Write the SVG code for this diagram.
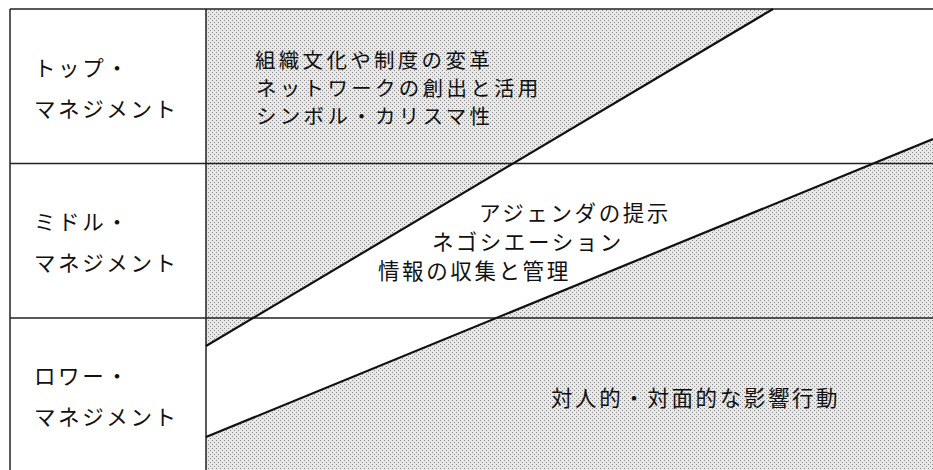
<svg xmlns="http://www.w3.org/2000/svg" width="933" height="470" viewBox="0 0 933 470">
<style>
  .t { font-family: "Noto Sans CJK JP", "Noto Sans CJK SC", sans-serif; font-size: 21.5px; letter-spacing: 2.6px; fill: #111; }
  .tc { font-size: 20.5px; letter-spacing: 3.3px; }
  .frame { stroke: #222; stroke-width: 1.5; fill: none; }
  .diag { stroke: #111; stroke-width: 2.2; fill: none; }
  .shade { fill: url(#dots); stroke: none; }
</style>
<defs>
  <pattern id="dots" patternUnits="userSpaceOnUse" width="4" height="4">
    <rect width="4" height="4" fill="#e8e8e8"/>
    <rect x="0" y="0" width="1" height="1" fill="#8a8a8a"/>
    <rect x="2" y="2" width="1" height="1" fill="#8a8a8a"/>
  </pattern>
</defs>
<rect width="933" height="470" fill="#ffffff"/>
<g id="shading">
  <polygon class="shade" points="206,9 773,9 206,346"/>
  <polygon class="shade" points="206,437 933,139 933,470 206,470"/>
</g>
<g id="grid">
  <line class="frame" x1="10" y1="9" x2="933" y2="9"/>
  <line class="frame" x1="10" y1="9" x2="10" y2="470"/>
  <line class="frame" x1="206" y1="9" x2="206" y2="470"/>
  <line class="frame" x1="10" y1="163.5" x2="933" y2="163.5"/>
  <line class="frame" x1="10" y1="318" x2="933" y2="318"/>
</g>
<g id="connectors">
  <line class="diag" x1="206" y1="346" x2="773" y2="9"/>
  <line class="diag" x1="206" y1="437" x2="933" y2="139"/>
</g>
<g id="label-top">
  <text class="t" x="34" y="76">トップ・</text>
  <text class="t" x="34" y="117">マネジメント</text>
</g>
<g id="label-middle">
  <text class="t" x="34" y="230">ミドル・</text>
  <text class="t" x="34" y="271">マネジメント</text>
</g>
<g id="label-lower">
  <text class="t" x="34" y="384">ロワー・</text>
  <text class="t" x="34" y="425">マネジメント</text>
</g>
<g id="content-top">
  <text class="t tc" x="255" y="68">組織文化や制度の変革</text>
  <text class="t tc" x="256" y="96">ネットワークの創出と活用</text>
  <text class="t tc" x="256" y="124">シンボル・カリスマ性</text>
</g>
<g id="content-middle">
  <text class="t" x="479" y="221">アジェンダの提示</text>
  <text class="t" x="432" y="250">ネゴシエーション</text>
  <text class="t" x="378" y="279">情報の収集と管理</text>
</g>
<g id="content-lower">
  <text class="t" x="551" y="406">対人的・対面的な影響行動</text>
</g>
</svg>
